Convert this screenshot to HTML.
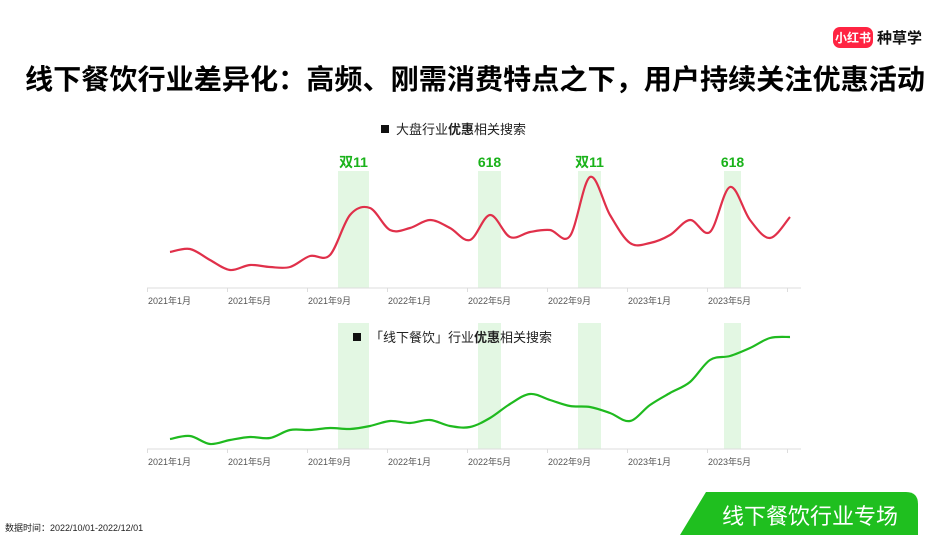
<!DOCTYPE html>
<html><head><meta charset="utf-8">
<style>
html,body{margin:0;padding:0;background:#fff;}
body{width:950px;height:535px;overflow:hidden;position:relative;font-family:"Liberation Sans","Noto Sans CJK SC",sans-serif;}
svg{position:absolute;left:0;top:0;}
</style></head>
<body>
<svg width="950" height="535">
  <g>
    <rect x="833" y="27" width="40" height="21" rx="7" fill="#ff2442"/>
    <text x="853" y="42" font-size="12" font-weight="bold" fill="#fff" text-anchor="middle" font-family="Liberation Sans,Noto Sans CJK SC,sans-serif">小红书</text>
    <text x="877" y="43" font-size="15" font-weight="bold" fill="#111" font-family="Liberation Sans,Noto Sans CJK SC,sans-serif">种草学</text>
  </g>
  <text x="475" y="89" font-size="28" font-weight="bold" fill="#000" text-anchor="middle" textLength="900" lengthAdjust="spacingAndGlyphs" font-family="Liberation Sans,Noto Sans CJK SC,sans-serif">线下餐饮行业差异化：高频、刚需消费特点之下，用户持续关注优惠活动</text>
  <g id="bands"></g>
  <g>
    <rect x="381" y="125" width="8" height="8" fill="#111"/>
    <text x="396" y="134" font-size="13" fill="#222" font-family="Liberation Sans,Noto Sans CJK SC,sans-serif">大盘行业<tspan font-weight="bold">优惠</tspan>相关搜索</text>
  </g>
  <g>
    <rect x="353" y="333" width="8" height="8" fill="#111"/>
    <text x="370" y="342" font-size="13" fill="#222" font-family="Liberation Sans,Noto Sans CJK SC,sans-serif">「线下餐饮」行业<tspan font-weight="bold">优惠</tspan>相关搜索</text>
  </g>
  <g id="axes"></g>
  <g id="series"></g>
  <text x="5" y="531" font-size="9" fill="#222" font-family="Liberation Sans,Noto Sans CJK SC,sans-serif">数据时间：2022/10/01-2022/12/01</text>
  <g>
    <path d="M706,492 L906,492 Q918,492 918,504 L918,535 L680,535 Z" fill="#1fbf1f"/>
    <text x="810" y="524" font-size="22" fill="#fff" text-anchor="middle" font-family="Liberation Sans,Noto Sans CJK SC,sans-serif">线下餐饮行业专场</text>
  </g>
</svg>
<script>
const tickLabels=["2021年1月","2021年5月","2021年9月","2022年1月","2022年5月","2022年9月","2023年1月","2023年5月"];
const overallSearch=[36,39,28,18,23,21,21,32,33,73,80,58,60,68,60,48,73,51,56,58,52,111,73,45,45,53,68,56,101,68,50,71];
const diningSearch=[10,13,5,9,12,11,19,19,21,20,23,28,26,29,23,22,31,45,55,49,43,42,36,28,44,56,67,89,93,101,111,112];
const promoLabels=["双11","618","双11","618"];
const promoStart=[8.4,15.4,20.4,27.7];
const promoEnd=[9.95,16.55,21.55,28.55];

const NS="http://www.w3.org/2000/svg";
function el(tag,attrs,parent,txt){const e=document.createElementNS(NS,tag);for(const k in attrs)e.setAttribute(k,attrs[k]);if(txt!==undefined)e.textContent=txt;parent.appendChild(e);return e;}
function xPos(m){return 170+20*m;}
const charts=[{data:overallSearch,base:288,top:171,color:"#e0304a",name:"overall-search-line"},
              {data:diningSearch,base:449,top:323,color:"#1fba1f",name:"dining-search-line"}];
function yPos(c,v){return c.base-v;}
const bands=document.getElementById('bands'),axes=document.getElementById('axes'),series=document.getElementById('series');
charts.forEach((c,ci)=>{
  promoStart.forEach((s,i)=>{
    const r=el('rect',{x:xPos(s),y:c.top,width:xPos(promoEnd[i])-xPos(s),height:c.base-c.top,fill:"#e3f7e3"},bands);
    
    
    if(ci===0){
      const t=el('text',{x:(xPos(s)+xPos(promoEnd[i]))/2,y:167,"font-size":14,"font-weight":"bold",fill:"#19b219","text-anchor":"middle","font-family":"Liberation Sans,Noto Sans CJK SC,sans-serif"},bands,promoLabels[i]);
      
      
    }
  });
  const ax=el('line',{x1:147,x2:801,y1:c.base,y2:c.base,stroke:"#ddd","stroke-width":1},axes);
  
  
  for(let k=0;k<=tickLabels.length;k++){
    const tx=xPos(4*k)-23+0.5;
    el('line',{x1:tx,x2:tx,y1:c.base,y2:c.base+4,stroke:"#ddd"},axes);
    if(k<tickLabels.length){
      const t=el('text',{x:tx+22,y:c.base+16,"font-size":9,fill:"#555","text-anchor":"middle","font-family":"Liberation Sans,Noto Sans CJK SC,sans-serif"},axes,tickLabels[k]);
      
      
    }
  }
  const pts=c.data.map((v,i)=>[xPos(i),yPos(c,v)]);
  let d="M"+pts[0][0]+","+pts[0][1];
  for(let i=0;i<pts.length-1;i++){
    const p0=pts[Math.max(0,i-1)],p1=pts[i],p2=pts[i+1],p3=pts[Math.min(pts.length-1,i+2)];
    const c1=[p1[0]+(p2[0]-p0[0])/6,p1[1]+(p2[1]-p0[1])/6],c2=[p2[0]-(p3[0]-p1[0])/6,p2[1]-(p3[1]-p1[1])/6];
    d+=" C"+c1.join(",")+" "+c2.join(",")+" "+p2.join(",");
  }
  const p=el('path',{d:d,fill:"none",stroke:c.color,"stroke-width":2.2,"stroke-linejoin":"round"},series);
  
  
});
</script>
</body></html>
